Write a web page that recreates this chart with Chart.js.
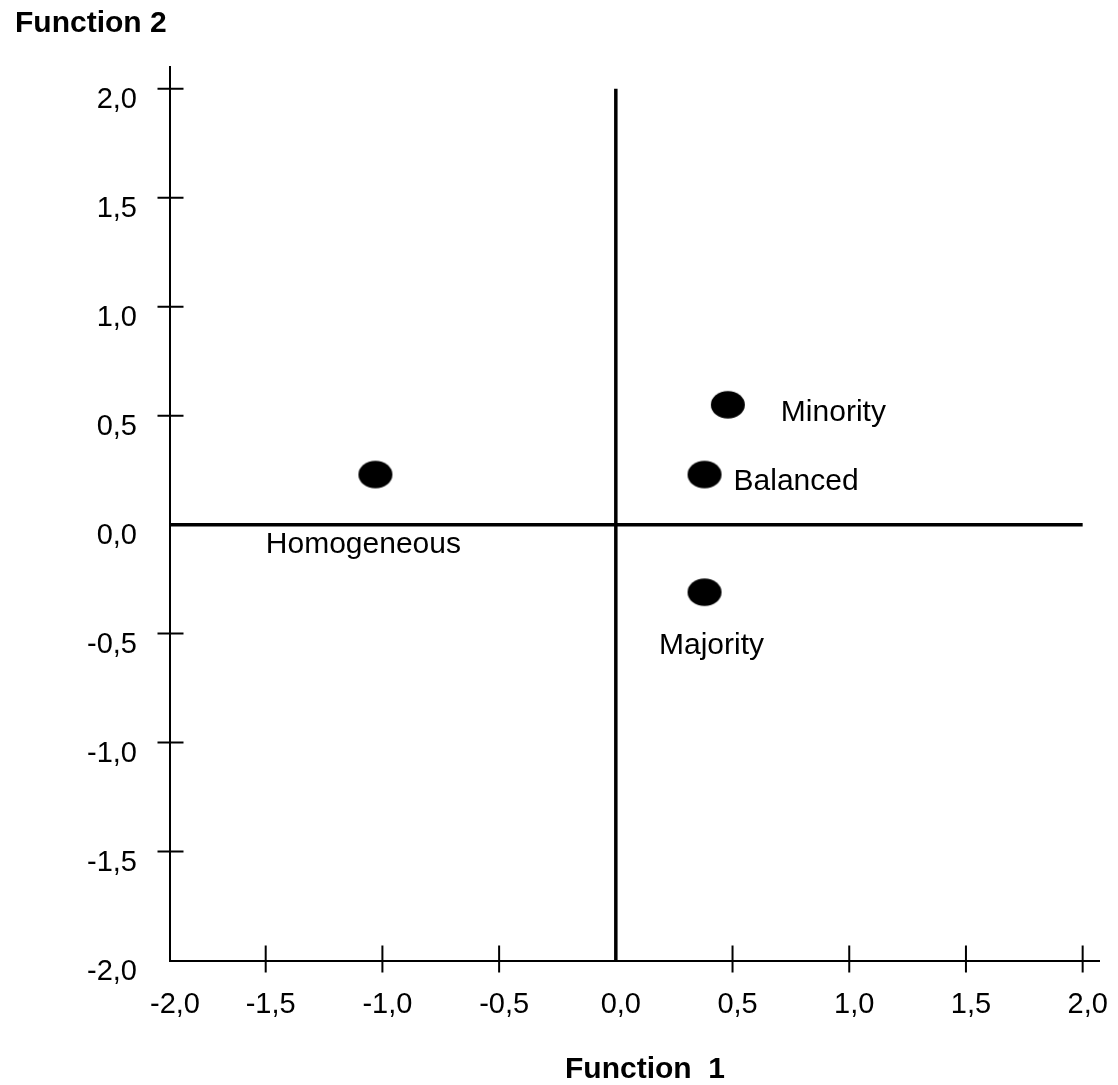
<!DOCTYPE html>
<html>
<head>
<meta charset="utf-8">
<script src="https://cdn.jsdelivr.net/npm/chart.js@4"></script>
<style>
    html, body { margin: 0; padding: 0; background: #fff; overflow: hidden; }
    canvas { display: block; }
</style>
</head>
<body>
<canvas id="chart" width="1118" height="1085"></canvas>
<script>
// ================= DATA =================
const groups = ["Homogeneous", "Minority", "Balanced", "Majority"];
const function1 = [-1.03, 0.48, 0.38, 0.38];
const function2 = [0.23, 0.55, 0.23, -0.31];

const tickValues = [-2, -1.5, -1, -0.5, 0, 0.5, 1, 1.5, 2];
const tickLabels = ["-2,0", "-1,5", "-1,0", "-0,5", "0,0", "0,5", "1,0", "1,5", "2,0"];

// the original x axis starts a little short of -2 (its first label still reads -2,0)
const xMin = -1.91, xMax = 2.07;
const yMin = -2, yMax = 2.1;

// ================= STYLE =================
const FONT = "'Liberation Sans', Arial, sans-serif";

// where each group name sits relative to its dot (px)
const labelPlace = {
    Homogeneous: { dx: -12, dy: 78, align: "center" },
    Minority:    { dx: 53,  dy: 16, align: "left" },
    Balanced:    { dx: 29,  dy: 15, align: "left" },
    Majority:    { dx: 7,   dy: 62, align: "center" }
};

// filled ellipse used as the marker
const dot = document.createElement("canvas");
dot.width = 36;
dot.height = 30;
const g = dot.getContext("2d");
g.fillStyle = "#000";
g.beginPath();
g.ellipse(18, 15, 17, 13.8, 0, 0, Math.PI * 2);
g.fill();

// ================= PLUGINS =================
const crossTicks = {
    id: "crossTicks",
    afterDraw(chart) {
        const { ctx, scales: { x, y } } = chart;
        ctx.save();
        ctx.strokeStyle = "#000";
        ctx.lineWidth = 2;
        ctx.beginPath();
        tickValues.forEach(v => {
            if (v === 0 || v < xMin) return;
            const px = x.getPixelForValue(v);
            ctx.moveTo(px, y.bottom - 15);
            ctx.lineTo(px, y.bottom + 12);
        });
        tickValues.forEach(v => {
            if (v === 0 || v <= yMin) return;
            const py = y.getPixelForValue(v);
            ctx.moveTo(x.left - 12.5, py);
            ctx.lineTo(x.left + 13.5, py);
        });
        ctx.stroke();
        ctx.restore();
    }
};

const groupLabels = {
    id: "groupLabels",
    afterDatasetsDraw(chart) {
        const { ctx } = chart;
        const meta = chart.getDatasetMeta(2);
        ctx.save();
        ctx.fillStyle = "#000";
        ctx.font = "30px " + FONT;
        ctx.textBaseline = "alphabetic";
        meta.data.forEach((pt, i) => {
            const p = labelPlace[groups[i]];
            ctx.textAlign = p.align;
            ctx.fillText(groups[i], pt.x + p.dx, pt.y + p.dy);
        });
        ctx.restore();
    }
};

const axisCaptions = {
    id: "axisCaptions",
    afterDraw(chart) {
        const { ctx } = chart;
        ctx.save();
        ctx.fillStyle = "#000";
        ctx.font = "bold 30px " + FONT;
        ctx.textBaseline = "alphabetic";
        ctx.textAlign = "left";
        ctx.fillText("Function 2", 15, 32);
        ctx.textAlign = "center";
        ctx.fillText("Function  1", 645, 1078);
        ctx.restore();
    }
};

// ================= CHART =================
new Chart(document.getElementById("chart"), {
    type: "scatter",
    data: {
        datasets: [
            {
                // horizontal zero line
                type: "line",
                data: [{ x: xMin, y: 0 }, { x: 2, y: 0 }],
                borderColor: "#000",
                borderWidth: 3.5,
                pointRadius: 0,
                fill: false
            },
            {
                // vertical zero line
                type: "line",
                data: [{ x: 0, y: -2 }, { x: 0, y: 2 }],
                borderColor: "#000",
                borderWidth: 3.5,
                pointRadius: 0,
                fill: false
            },
            {
                label: "Groups",
                data: groups.map((name, i) => ({ x: function1[i], y: function2[i] })),
                pointStyle: dot,
                backgroundColor: "#000",
                borderColor: "#000"
            }
        ]
    },
    options: {
        responsive: false,
        animation: false,
        events: [],
        layout: {
            autoPadding: false,
            padding: { top: 67, right: 19, left: 0, bottom: 0 }
        },
        plugins: {
            legend: { display: false },
            tooltip: { enabled: false }
        },
        scales: {
            x: {
                type: "linear",
                min: xMin,
                max: xMax,
                afterBuildTicks: scale => {
                    scale.ticks = tickValues.map(v => ({ value: Math.max(v, xMin) }));
                },
                afterFit: scale => {
                    scale.height = 124.5;
                    scale.paddingLeft = 0;
                    scale.paddingRight = 0;
                },
                grid: { display: false, drawTicks: false },
                border: { display: true, color: "#000", width: 2 },
                ticks: {
                    autoSkip: false,
                    maxRotation: 0,
                    padding: 27,
                    labelOffset: 5,
                    color: "#000",
                    font: { family: FONT, size: 29 },
                    callback: (value, index) => tickLabels[index]
                }
            },
            y: {
                type: "linear",
                min: yMin,
                max: yMax,
                afterBuildTicks: scale => {
                    scale.ticks = tickValues.map(v => ({ value: v }));
                },
                afterFit: scale => {
                    scale.width = 170;
                    scale.paddingTop = 0;
                    scale.paddingBottom = 0;
                },
                grid: { display: false, drawTicks: false },
                border: { display: true, color: "#000", width: 2 },
                ticks: {
                    autoSkip: false,
                    padding: 33,
                    labelOffset: 11,
                    color: "#000",
                    font: { family: FONT, size: 29 },
                    callback: (value, index) => tickLabels[index]
                }
            }
        }
    },
    plugins: [crossTicks, groupLabels, axisCaptions]
});
</script>
</body>
</html>
